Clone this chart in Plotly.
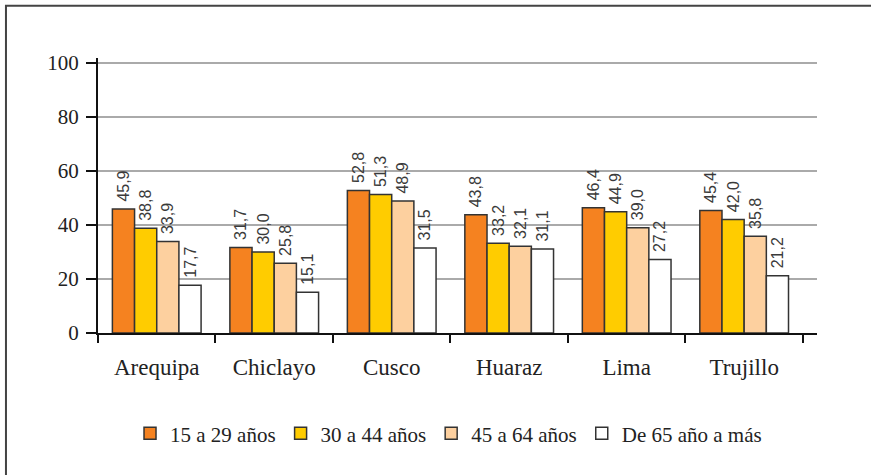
import plotly.graph_objects as go

# Cities and age-group shares (%)
ciudades = ["Arequipa", "Chiclayo", "Cusco", "Huaraz", "Lima", "Trujillo"]
grupos = ["15 a 29 años", "30 a 44 años", "45 a 64 años", "De 65 año a más"]
edad_15_29 = [45.9, 31.7, 52.8, 43.8, 46.4, 45.4]
edad_30_44 = [38.8, 30.0, 51.3, 33.2, 44.9, 42.0]
edad_45_64 = [33.9, 25.8, 48.9, 32.1, 39.0, 35.8]
edad_65_mas = [17.7, 15.1, 31.5, 31.1, 27.2, 21.2]
colores = ["#F58220", "#FFCC00", "#FDD09F", "#FFFFFF"]
y_ticks = [0, 20, 40, 60, 80, 100]

series = [edad_15_29, edad_30_44, edad_45_64, edad_65_mas]

SERIF = "Liberation Serif"
SANS = "Liberation Sans"


def etiqueta(v):
    # leading no-break space keeps the rotated label clear of the bar top
    return "\u00a0" + f"{v:.1f}".replace(".", ",")


fig = go.Figure()
for nombre, valores, color in zip(grupos, series, colores):
    fig.add_trace(go.Bar(
        name=nombre,
        x=ciudades,
        y=valores,
        marker=dict(color=color, line=dict(color="#333333", width=1.5)),
        text=[etiqueta(v) for v in valores],
        textposition="outside",
        textangle=-90,
        constraintext="none",
        cliponaxis=False,
        textfont=dict(family=SANS, size=16, color="#3a3a3a"),
        hoverinfo="skip",
    ))

fig.update_layout(
    width=871,
    height=475,
    margin=dict(l=98, r=54, t=58, b=142),
    paper_bgcolor="white",
    plot_bgcolor="white",
    barmode="group",
    bargap=0.245,
    bargroupgap=0,
    showlegend=True,
    legend=dict(
        orientation="h",
        x=0.4875,
        xanchor="center",
        y=-0.366,
        yanchor="middle",
        font=dict(family=SERIF, size=21, color="#222222"),
        itemwidth=30,
        tracegroupgap=0,
        traceorder="normal",
        itemclick=False,
    ),
    font=dict(family=SERIF, color="#222222"),
)

fig.update_xaxes(
    type="category",
    range=[-0.5, 5.62],
    showline=True,
    linecolor="#111111",
    linewidth=2,
    ticks="outside",
    tickson="boundaries",
    ticklen=8,
    tickwidth=2,
    tickcolor="#111111",
    showgrid=False,
    tickfont=dict(family=SERIF, size=23, color="#222222"),
    ticklabelstandoff=12,
    fixedrange=True,
)

fig.update_yaxes(
    range=[0, 101.85],
    tickvals=y_ticks,
    ticktext=[str(t) for t in y_ticks],
    showline=True,
    linecolor="#111111",
    linewidth=2,
    ticks="outside",
    ticklen=10,
    tickwidth=1.5,
    tickcolor="#111111",
    showgrid=True,
    gridcolor="#AAAAAA",
    gridwidth=1.5,
    zeroline=False,
    tickfont=dict(family=SERIF, size=21, color="#222222"),
    ticklabelstandoff=3,
    fixedrange=True,
)

# Outer frame around the chart
fig.add_shape(
    type="rect",
    xref="paper", yref="paper",
    x0=-0.128, x1=1.09, y0=-0.55, y1=1.19,
    line=dict(color="#444444", width=2),
    fillcolor="rgba(0,0,0,0)",
    layer="below",
)

fig.write_html("out.html")
